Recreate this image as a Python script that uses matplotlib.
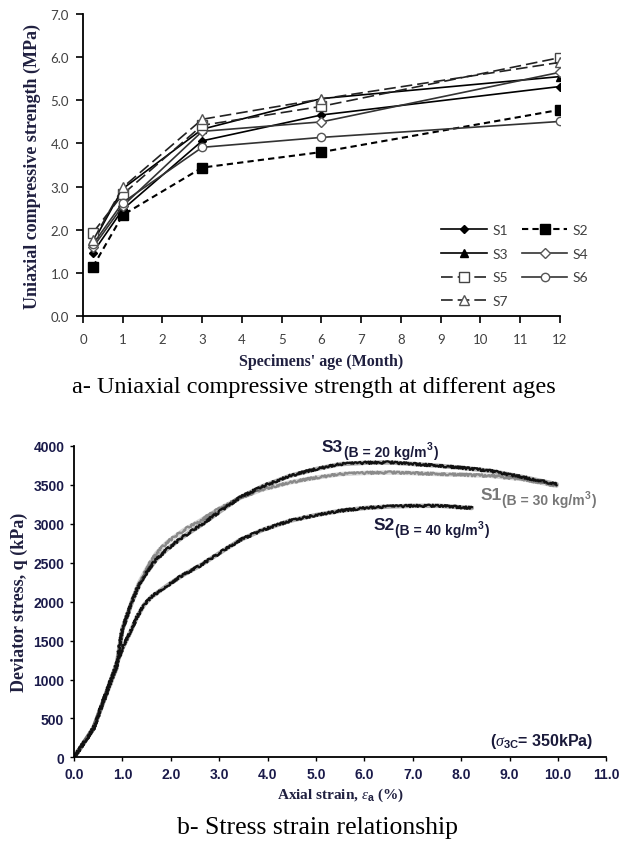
import matplotlib
matplotlib.use("Agg")
import matplotlib.pyplot as plt

plt.rcParams['mathtext.fontset'] = 'custom'
plt.rcParams['mathtext.rm'] = 'Liberation Serif'
plt.rcParams['mathtext.it'] = 'Liberation Serif:italic'
plt.rcParams['mathtext.bf'] = 'Liberation Sans:bold'

# ---------------- data: panel a ----------------
months = [0.25, 1, 3, 6, 12]
S1 = [1.47, 2.47, 4.06, 4.66, 5.32]
S2 = [1.14, 2.34, 3.44, 3.80, 4.78]
S3 = [1.70, 2.95, 4.33, 5.04, 5.55]
S4 = [1.59, 2.55, 4.28, 4.50, 5.65]
S5 = [1.93, 2.82, 4.42, 4.86, 5.99]
S6 = [1.66, 2.63, 3.91, 4.14, 4.51]
S7 = [1.75, 2.98, 4.56, 5.03, 5.88]
series_names = ['S1', 'S2', 'S3', 'S4', 'S5', 'S6', 'S7']
x_ticks_a = list(range(0, 13))
y_ticks_a = [0.0, 1.0, 2.0, 3.0, 4.0, 5.0, 6.0, 7.0]

# ---------------- data: panel b ----------------
s3_strain = [0, 0.4, 0.88, 1.0, 1.2, 1.35, 1.5, 1.7, 1.92, 2.25, 2.6, 3.0, 3.43, 3.9, 4.46, 5.0, 5.5, 6.0, 6.53, 7.0, 7.56, 8.1, 8.6, 9.28, 9.97]
s3_stress = [0, 370, 1180, 1650, 2000, 2220, 2374, 2540, 2670, 2830, 2972, 3150, 3336, 3480, 3613, 3700, 3763, 3780, 3785, 3765, 3741, 3710, 3677, 3596, 3506]
s1_strain = [0, 0.4, 0.88, 1.0, 1.2, 1.35, 1.5, 1.7, 1.92, 2.25, 2.6, 3.0, 3.43, 3.9, 4.46, 5.0, 5.5, 6.0, 6.53, 7.0, 7.56, 8.1, 8.6, 9.28, 9.97]
s1_stress = [0, 380, 1150, 1640, 2010, 2250, 2420, 2620, 2759, 2910, 3036, 3190, 3330, 3440, 3528, 3590, 3635, 3650, 3656, 3648, 3635, 3625, 3613, 3570, 3485]
s2_strain = [0, 0.4, 0.88, 1.0, 1.16, 1.3, 1.45, 1.6, 1.92, 2.25, 2.6, 3.0, 3.43, 3.9, 4.46, 5.0, 5.5, 6.0, 6.53, 7.0, 7.56, 8.22]
s2_stress = [0, 370, 1200, 1400, 1605, 1800, 1960, 2060, 2203, 2340, 2460, 2620, 2790, 2920, 3036, 3110, 3164, 3200, 3220, 3228, 3228, 3200]
x_ticks_b = [0, 1, 2, 3, 4, 5, 6, 7, 8, 9, 10, 11]
y_ticks_b = [0, 500, 1000, 1500, 2000, 2500, 3000, 3500, 4000]

fig = plt.figure(figsize=(6.22, 8.45), dpi=100)

# ================= panel a =================
ax = fig.add_axes([0.1334, 0.6249, 0.7669, 0.3573])
styles = {
    'S1': dict(color='black', ls='-', marker='D', ms=4.5, mfc='black', mec='black', lw=1.2),
    'S2': dict(color='black', ls=(0, (3, 2)), marker='s', ms=6.5, mfc='black', mec='black', lw=1.5),
    'S3': dict(color='black', ls='-', marker='^', ms=6, mfc='black', mec='black', lw=1.2),
    'S4': dict(color='#333333', ls='-', marker='D', ms=5, mfc='white', mec='#555555', lw=1.2),
    'S5': dict(color='#222222', ls=(0, (7, 3)), marker='s', ms=7, mfc='white', mec='#444444', lw=1.2),
    'S6': dict(color='#333333', ls='-', marker='o', ms=6, mfc='white', mec='#555555', lw=1.2),
    'S7': dict(color='#222222', ls=(0, (7, 3)), marker='^', ms=7, mfc='white', mec='#555555', lw=1.2),
}
data_a = {'S1': S1, 'S2': S2, 'S3': S3, 'S4': S4, 'S5': S5, 'S6': S6, 'S7': S7}
handles = {}
for name in series_names:
    h, = ax.plot(months, data_a[name], label=name, **styles[name])
    handles[name] = h

ax.set_xlim(0, 12)
ax.set_ylim(0, 7)
ax.set_xticks(x_ticks_a)
ax.set_yticks(y_ticks_a)
ax.set_yticklabels([f'{v:.1f}' for v in y_ticks_a])
for s in ['top', 'right']:
    ax.spines[s].set_visible(False)
for s in ['left', 'bottom']:
    ax.spines[s].set_linewidth(1.3)
ax.tick_params(axis='x', direction='out', length=5, width=1.2, pad=7,
               labelsize=9.5, labelcolor='#404040')
ax.tick_params(axis='y', direction='out', length=5, width=1.2, pad=5,
               labelsize=9.5, labelcolor='#404040')
for lab in ax.get_xticklabels() + ax.get_yticklabels():
    lab.set_family('Lato')

ax.set_ylabel('Uniaxial compressive strength (MPa)', family='Liberation Serif',
              fontweight='bold', fontsize=13, color='#202040', labelpad=7)
ax.set_xlabel("Specimens' age (Month)", family='Liberation Serif',
              fontweight='bold', fontsize=11.5, color='#202040', labelpad=6)

order = ['S1', 'S3', 'S5', 'S7', 'S2', 'S4', 'S6']
leg = ax.legend([handles[n] for n in order], order, ncol=2, loc='upper left',
                bbox_to_anchor=(0.75, 0.305), frameon=False, handlelength=3.3,
                handletextpad=0.4, columnspacing=1.0, labelspacing=0.85,
                borderaxespad=0, borderpad=0,
                prop={'family': 'Lato', 'size': 10})
for t in leg.get_texts():
    t.set_color('#404040')

fig.text(0.505, 1 - 388 / 845, 'a- Uniaxial compressive strength at different ages',
         ha='center', va='center', family='Liberation Serif', fontsize=17.5)

# ================= panel b =================
bx = fig.add_axes([0.119, 0.1024, 0.856, 0.3690])

def noisy_line(x, y, color, lw):
    bx.plot(x, y, color=color, lw=lw + 1.6, alpha=0.35, solid_capstyle='round')
    ln, = bx.plot(x, y, color=color, lw=lw)
    ln.set_sketch_params(scale=1.2, length=1.5, randomness=2)
    return ln

noisy_line(s1_strain, s1_stress, '#8a8a8a', 1.6)
noisy_line(s3_strain, s3_stress, '#111111', 1.6)
noisy_line(s2_strain, s2_stress, '#111111', 1.6)

bx.set_xlim(0, 11)
bx.set_ylim(0, 4000)
bx.set_xticks(x_ticks_b)
bx.set_xticklabels([f'{v:.1f}' for v in x_ticks_b])
bx.set_yticks(y_ticks_b)
for s in ['top', 'right']:
    bx.spines[s].set_visible(False)
for s in ['left', 'bottom']:
    bx.spines[s].set_linewidth(1.3)
bx.tick_params(axis='both', direction='out', length=3, width=1.0, pad=4,
               labelsize=10, labelcolor='#1a1a4a')
for lab in bx.get_xticklabels() + bx.get_yticklabels():
    lab.set_family('Liberation Sans')
    lab.set_fontweight('bold')

bx.set_ylabel('Deviator stress, q (kPa)', family='Liberation Serif',
              fontweight='bold', fontsize=13, color='#202040', labelpad=4)
bx.set_xlabel(r'Axial strain, $\varepsilon_{\mathbf{a}}$ (%)', family='Liberation Serif',
              fontweight='bold', fontsize=11, color='#202040', labelpad=3)


def curve_label(x, y, main, sub, color):
    kw = dict(family='Liberation Sans', fontweight='bold', color=color)
    t = bx.text(x, y, main, fontsize=12.5, va='baseline', ha='left', **kw)
    s = bx.annotate(sub, xy=(1, 0), xycoords=t, xytext=(0.5, -3.5),
                    textcoords='offset points', fontsize=10, va='bottom', ha='left', **kw)
    p = bx.annotate('3', xy=(1, 1), xycoords=s, xytext=(0.3, 2.5),
                    textcoords='offset points', fontsize=7.5, va='top', ha='left', **kw)
    bx.annotate(')', xy=(1, 0), xycoords=(p, s), xytext=(0.3, 0),
                textcoords='offset points', fontsize=10, va='bottom', ha='left', **kw)


curve_label(5.12, 3933, 'S3', '(B = 20 kg/m', '#1a1a3a')
curve_label(8.39, 3314, 'S1', '(B = 30 kg/m', '#777777')
curve_label(6.18, 2929, 'S2', '(B = 40 kg/m', '#1a1a3a')

bx.text(10.72, 215, r'($\sigma_{\mathbf{3C}}$= 350kPa)', ha='right', va='center',
        family='Liberation Sans', fontweight='bold', fontsize=11.5, color='#1a1a3a')

fig.text(0.51, 1 - 828 / 845, 'b- Stress strain relationship',
         ha='center', va='center', family='Liberation Serif', fontsize=18.5)

fig.savefig('out.png', dpi=100)
